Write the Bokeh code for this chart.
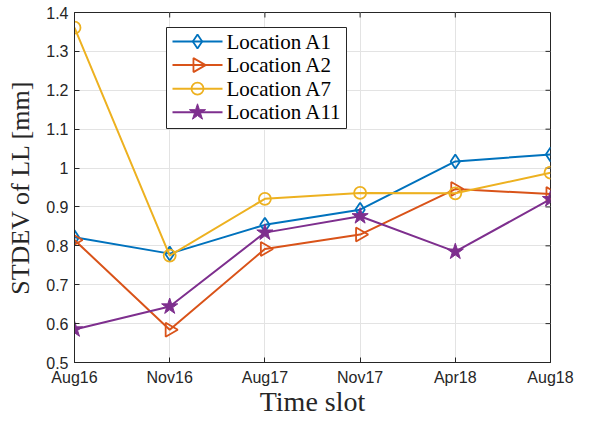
from bokeh.plotting import figure
from bokeh.models import Range1d, FixedTicker
from bokeh.core.properties import value
from bokeh.embed import file_html
from bokeh.resources import INLINE

categories = ["Aug16", "Nov16", "Aug17", "Nov17", "Apr18", "Aug18"]
loc_a1 = [0.822, 0.780, 0.854, 0.893, 1.017, 1.035]
loc_a2 = [0.815, 0.584, 0.792, 0.829, 0.946, 0.933]
loc_a7 = [1.361, 0.775, 0.921, 0.936, 0.935, 0.988]
loc_a11 = [0.585, 0.644, 0.834, 0.876, 0.785, 0.920]
series_names = ["Location A1", "Location A2", "Location A7", "Location A11"]
y_ticks = [0.5, 0.6, 0.7, 0.8, 0.9, 1.0, 1.1, 1.2, 1.3, 1.4]
y_tick_labels = ["0.5", "0.6", "0.7", "0.8", "0.9", "1", "1.1", "1.2", "1.3", "1.4"]

xs = list(range(len(categories)))

FW, FH = 476, 350
p = figure(frame_width=FW, frame_height=FH, output_backend="svg", toolbar_location=None,
           x_range=Range1d(0, len(categories) - 1), y_range=Range1d(0.5, 1.4),
           min_border_left=74, min_border_right=24, min_border_top=12, min_border_bottom=58)
p.extra_x_ranges = {"px": Range1d(0, FW)}
p.extra_y_ranges = {"px": Range1d(0, FH)}
p.background_fill_color = "white"
p.border_fill_color = "white"
p.outline_line_color = "#262626"
p.outline_line_width = 1

xt = FixedTicker(ticks=xs)
yt = FixedTicker(ticks=y_ticks)
p.xaxis.ticker = xt
p.yaxis.ticker = yt
p.xaxis.major_label_overrides = {i: c for i, c in enumerate(categories)}
p.yaxis.major_label_overrides = {t: l for t, l in zip(y_ticks, y_tick_labels)}

for ax in (p.xaxis[0], p.yaxis[0]):
    ax.major_tick_in = 5
    ax.major_tick_out = 0
    ax.minor_tick_line_color = None
    ax.axis_line_color = "#262626"
    ax.major_tick_line_color = "#262626"
    ax.major_label_text_font = "Liberation Sans"
    ax.major_label_text_font_size = "16px"
    ax.major_label_text_color = "#262626"
    ax.axis_label_text_font = "Liberation Serif"
    ax.axis_label_text_font_style = "normal"
    ax.axis_label_text_color = "#262626"

p.xaxis.axis_label = "Time slot"
p.yaxis.axis_label = "STDEV of LL [mm]"
p.xaxis.axis_label_text_font_size = "28px"
p.yaxis.axis_label_text_font_size = "26px"
p.xaxis.major_label_standoff = 6
p.xaxis.axis_label_standoff = -3
p.yaxis.major_label_standoff = 6
p.yaxis.axis_label_standoff = 8

p.xgrid.grid_line_color = "#e3e3e3"
p.ygrid.grid_line_color = "#e3e3e3"
p.xgrid.ticker = xt
p.ygrid.ticker = yt

# inward ticks on the top and right edges of the box
p.segment(x0=xs, x1=xs, y0=[FH] * len(xs), y1=[FH - 5] * len(xs),
          y_range_name="px", line_color="#262626", line_width=1)
p.segment(x0=[FW] * len(y_ticks), x1=[FW - 5] * len(y_ticks), y0=y_ticks, y1=y_ticks,
          x_range_name="px", line_color="#262626", line_width=1)

colors = ["#0072BD", "#D95319", "#EDB120", "#7E2F8E"]
series = [loc_a1, loc_a2, loc_a7, loc_a11]
markers = [("diamond", 14, 0.0, None), ("triangle", 14, -1.5708, None),
           ("circle", 12, 0.0, None), ("star", 17, 0.0, "fill")]

for vals, col, (mk, sz, ang, fill) in zip(series, colors, markers):
    p.line(xs, vals, line_color=col, line_width=2)
    p.scatter(xs, vals, marker=mk, size=sz, angle=ang, line_color=col,
              fill_color=(col if fill else None), line_width=(1 if fill else 1.8))

# legend box (pixel coordinates relative to the plot frame)
LX, LT = 92, FH - 15
LW, LH = 180, 101
p.quad(left=[LX], right=[LX + LW], top=[LT], bottom=[LT - LH],
       x_range_name="px", y_range_name="px",
       fill_color="white", line_color="#262626", line_width=1)
row0, pitch = 14, 23.6
for i, (name, col, (mk, sz, ang, fill)) in enumerate(zip(series_names, colors, markers)):
    cy = LT - row0 - i * pitch
    p.line([LX + 6, LX + 56], [cy, cy], x_range_name="px", y_range_name="px",
           line_color=col, line_width=2)
    p.scatter([LX + 31], [cy], marker=mk, size=sz, angle=ang, line_color=col,
              fill_color=(col if fill else None), line_width=(1 if fill else 1.8),
              x_range_name="px", y_range_name="px")
    p.text([LX + 60], [cy], text=[name], x_range_name="px", y_range_name="px",
           text_font=value("Liberation Serif"), text_font_size="21px",
           text_color="black", text_baseline="middle", text_align="left")

open("out.html", "w").write(file_html(p, INLINE))
